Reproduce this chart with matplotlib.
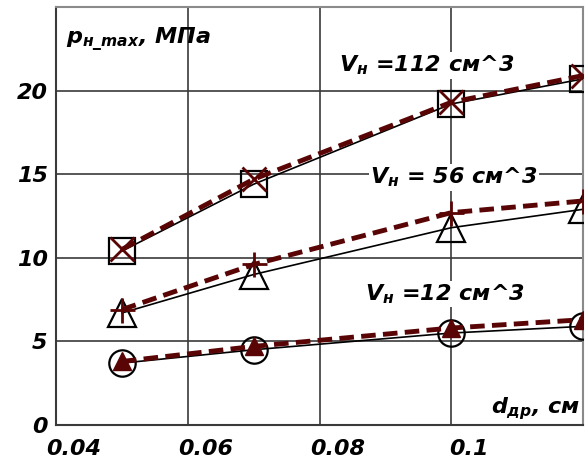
import matplotlib.pyplot as plt
from matplotlib import transforms

# diameter of throttle, cm
d_dr = [0.05, 0.07, 0.10, 0.12]

# experiment (solid, open markers)
p_exp_112 = [10.4, 14.4, 19.2, 20.7]
p_exp_56 = [6.7, 9.0, 11.8, 12.9]
p_exp_12 = [3.7, 4.5, 5.5, 5.9]

# calculation (dashed, dark red markers)
p_calc_112 = [10.5, 14.7, 19.3, 20.9]
p_calc_56 = [6.9, 9.6, 12.7, 13.4]
p_calc_12 = [3.8, 4.7, 5.8, 6.3]

x_ticks = [0.04, 0.06, 0.08, 0.1]
x_tick_labels = ["0.04", "0.06", "0.08", "0.1"]
y_ticks = [0, 5, 10, 15, 20]

plt.rcParams["font.family"] = ["DejaVu Sans"]
plt.rcParams["mathtext.fontset"] = "custom"
plt.rcParams["mathtext.rm"] = "DejaVu Sans:italic:bold"
plt.rcParams["mathtext.it"] = "DejaVu Sans:italic:bold"
plt.rcParams["mathtext.bf"] = "DejaVu Sans:italic:bold"

fig = plt.figure(figsize=(5.86, 4.65), dpi=100)
ax = fig.add_axes([56 / 586, 40 / 465, 527 / 586, 418 / 465])

dark = "#5a0505"

# experimental curves
ax.plot(d_dr, p_exp_112, color="black", lw=1.2, marker="s", ms=19,
        mfc="none", mec="black", mew=1.6, zorder=3)
ax.plot(d_dr, p_exp_56, color="black", lw=1.2, marker="^", ms=20,
        mfc="none", mec="black", mew=1.6, zorder=3)
ax.plot(d_dr, p_exp_12, color="black", lw=1.2, marker="o", ms=19,
        mfc="none", mec="black", mew=1.6, zorder=3)

# calculated curves
ax.plot(d_dr, p_calc_112, color=dark, lw=3.5, ls=(0, (3, 1.5)),
        marker="x", ms=17, mec=dark, mew=2, zorder=4)
ax.plot(d_dr, p_calc_56, color=dark, lw=3.5, ls=(0, (3, 1.5)),
        marker="+", ms=18, mec=dark, mew=2, zorder=4)
ax.plot(d_dr, p_calc_12, color=dark, lw=3.5, ls=(0, (3, 1.5)),
        marker="^", ms=13, mfc=dark, mec=dark, zorder=4)

ax.set_xlim(0.04, 0.12)
ax.set_ylim(0, 25)
ax.set_xticks(x_ticks)
ax.set_xticklabels(x_tick_labels)
ax.set_yticks(y_ticks)
ax.grid(True, color="#3a3a3a", lw=1.2)
ax.set_axisbelow(True)
ax.tick_params(axis="y", length=0, labelsize=16, pad=6)
ax.tick_params(axis="x", length=0, labelsize=16, pad=10)
for lab in ax.get_xticklabels() + ax.get_yticklabels():
    lab.set_fontweight("bold")
    lab.set_fontstyle("italic")
# Excel-like shift of x labels to the right
offset = transforms.ScaledTranslation(18 / 100, 0, fig.dpi_scale_trans)
for lab in ax.get_xticklabels():
    lab.set_transform(lab.get_transform() + offset)

for side in ["top", "right"]:
    ax.spines[side].set_color("#8a8a8a")
    ax.spines[side].set_linewidth(1.5)
for side in ["left", "bottom"]:
    ax.spines[side].set_color("#3a3a3a")
    ax.spines[side].set_linewidth(1.5)

txt = dict(fontsize=16, fontweight="bold", fontstyle="italic",
           ha="center", va="center")
box = dict(facecolor="white", edgecolor="none", pad=1)
ax.text(0.0962, 21.5, r"$V_{н}$ =112 см^3", bbox=box, **txt)
ax.text(0.1004, 14.8, r"$V_{н}$ = 56 см^3", bbox=box, **txt)
ax.text(0.0991, 7.85, r"$V_{н}$ =12 см^3", bbox=box, **txt)

ax.text(0.0415, 23.0, r"$p_{н\_max}$, МПа", fontsize=16, fontweight="bold",
        fontstyle="italic", ha="left", va="center")
ax.text(0.1195, 1.0, r"$d_{др}$, см", fontsize=16, fontweight="bold",
        fontstyle="italic", ha="right", va="center")

fig.savefig("out.png", dpi=100)
plt.close(fig)
